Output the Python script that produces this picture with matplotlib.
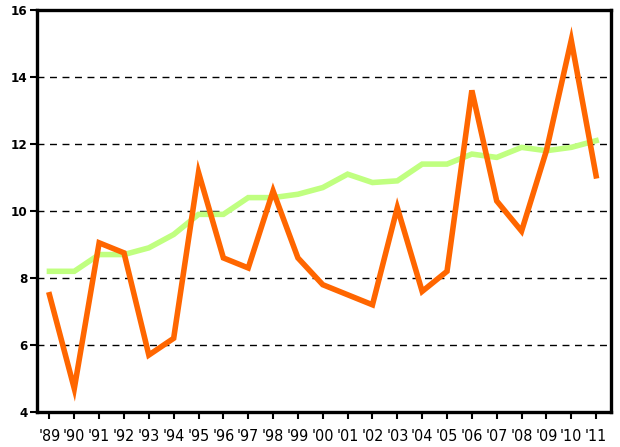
import numpy as np
import matplotlib.pyplot as plt

# year labels and the two series
years = ["'89", "'90", "'91", "'92", "'93", "'94", "'95", "'96", "'97", "'98", "'99", "'00",
         "'01", "'02", "'03", "'04", "'05", "'06", "'07", "'08", "'09", "'10", "'11"]
annual = [7.5, 4.7, 9.05, 8.75, 5.7, 6.2, 11.15, 8.6, 8.3, 10.6, 8.6, 7.8,
          7.5, 7.2, 10.1, 7.6, 8.2, 13.6, 10.3, 9.4, 11.8, 15.1, 11.05]
trend = [8.2, 8.2, 8.7, 8.7, 8.9, 9.3, 9.9, 9.9, 10.4, 10.4, 10.5, 10.7,
         11.1, 10.85, 10.9, 11.4, 11.4, 11.7, 11.6, 11.9, 11.8, 11.9, 12.1]
y_ticks = [4, 6, 8, 10, 12, 14, 16]

plt.rcParams['font.family'] = ['DejaVu Sans']
plt.rcParams['font.stretch'] = 'condensed'

fig = plt.figure(figsize=(6.2, 4.47), dpi=100)
ax = fig.add_axes([0.0597, 0.0783, 0.9258, 0.8993])

x = np.arange(len(years))
for y in y_ticks[1:-1]:
    ax.axhline(y, color='black', lw=1.0, ls=(0, (5, 4)), zorder=1)

ax.plot(x, trend, color='#c0ff80', lw=4.0, solid_joinstyle='miter', zorder=2)
ax.plot(x, annual, color='#ff6600', lw=4.0, solid_joinstyle='miter', zorder=3)

ax.set_xlim(-0.5, 22.6)
ax.set_ylim(4, 16)
ax.set_xticks(x)
ax.set_xticklabels(years, fontsize=11.5)
ax.set_yticks(y_ticks)
ax.set_yticklabels([str(v) for v in y_ticks], fontsize=9.5, fontweight='bold')
ax.tick_params(axis='both', direction='out', length=5, width=1.5, color='black')
ax.tick_params(axis='x', pad=7)
ax.tick_params(axis='y', pad=2)

for s in ax.spines.values():
    s.set_linewidth(2.4)
    s.set_color('black')

fig.savefig('out.png', dpi=100)
